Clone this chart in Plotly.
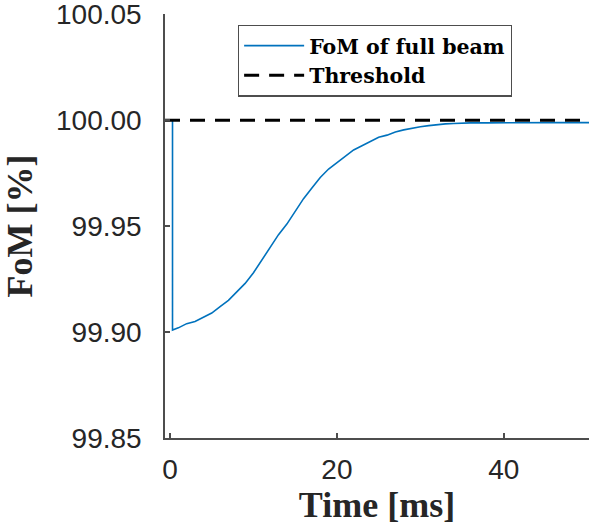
import plotly.graph_objects as go

# Data
time_ms = [0.3, 0.3, 1, 2, 3, 4, 5, 6, 7, 8, 9, 10, 11, 12, 13, 14, 15, 16, 17, 18, 19,
           20, 21, 22, 23, 24, 25, 26, 27, 28, 29, 30, 31, 32, 33, 34, 35, 36, 38, 40,
           42, 44, 46, 48, 50.2]
fom_full_beam = [100.000, 99.901, 99.902, 99.904, 99.905, 99.907, 99.909, 99.912, 99.915,
                 99.919, 99.923, 99.928, 99.934, 99.940, 99.946, 99.951, 99.957, 99.963,
                 99.968, 99.973, 99.977, 99.980, 99.983, 99.986, 99.988, 99.990, 99.992,
                 99.993, 99.9945, 99.9955, 99.9963, 99.997, 99.9975, 99.998, 99.9983,
                 99.9985, 99.9987, 99.9988, 99.9988, 99.9989, 99.9989, 99.9989, 99.9989,
                 99.9989, 99.9989]
threshold_time = [-0.6, 50.2]
threshold_value = [100.0, 100.0]

x_ticks = [0, 20, 40]
y_ticks = [99.85, 99.90, 99.95, 100.00, 100.05]
y_tick_labels = ["99.85", "99.90", "99.95", "100.00", "100.05"]

fig = go.Figure()
fig.add_trace(go.Scatter(
    x=time_ms, y=fom_full_beam, mode="lines", name="<b>FoM of full beam</b>",
    line=dict(color="#0072BD", width=1.6),
))
fig.add_trace(go.Scatter(
    x=threshold_time, y=threshold_value, mode="lines", name="<b>Threshold</b>",
    line=dict(color="black", width=3, dash="15px,10px"),
))

axis_common = dict(
    showline=True, linecolor="#4d4d4d", linewidth=1.5,
    ticks="inside", ticklen=5, tickwidth=1.5, tickcolor="#4d4d4d",
    showgrid=False, zeroline=False, mirror=False, ticklabeloverflow="allow",
    automargin=False,
    tickfont=dict(family="Liberation Sans, Arial, sans-serif", size=28, color="#262626"),
)

title_font = dict(family="Liberation Serif, serif", size=36, color="#262626")

fig.update_layout(
    width=591, height=526,
    margin=dict(l=165, r=2, t=14, b=88),
    paper_bgcolor="white", plot_bgcolor="white",
    showlegend=True,
    legend=dict(
        x=0.172, y=0.975, xanchor="left", yanchor="top",
        bordercolor="#4d4d4d", borderwidth=1.2, bgcolor="white",
        font=dict(family="DejaVu Serif, serif", size=20.5, color="black"),
        tracegroupgap=0, itemwidth=60,
    ),
    xaxis=dict(
        range=[-0.6, 50.2], tickvals=x_ticks, ticklabelstandoff=6,
        title=dict(text="<b>Time [ms]</b>", standoff=4, font=title_font),
        **axis_common,
    ),
    yaxis=dict(
        range=[99.85, 100.0502], tickvals=y_ticks, ticktext=y_tick_labels,
        ticklabelstandoff=16,
        title=dict(text="<b>FoM [%]</b>", standoff=14, font=title_font),
        **axis_common,
    ),
)

fig.write_html("out.html")
